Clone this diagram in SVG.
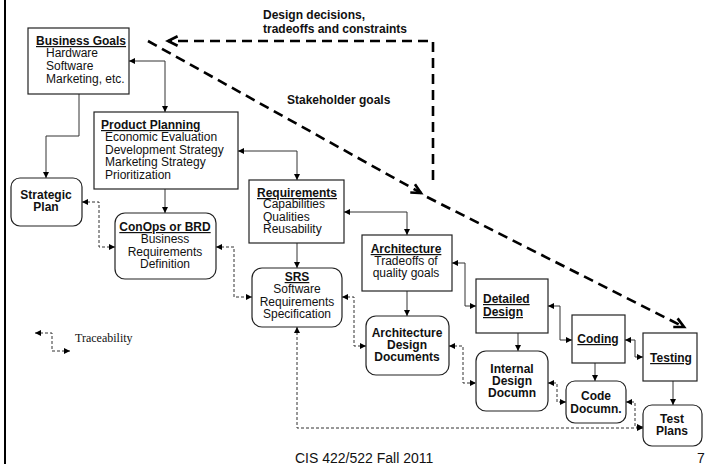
<svg xmlns="http://www.w3.org/2000/svg" width="706" height="464" viewBox="0 0 706 464">
<style>
text{font-family:"Liberation Sans",Arial,sans-serif;font-size:12px;fill:#111}
.b{font-weight:bold}
.u{text-decoration:underline}
.m{text-anchor:middle}
.box{fill:#fff;stroke:#222;stroke-width:1.2}
.con{fill:none;stroke:#333;stroke-width:1}
.tr{fill:none;stroke:#333;stroke-width:1;stroke-dasharray:3 2}
.big{fill:none;stroke:#000;stroke-width:2.6;stroke-dasharray:10 6}
</style>
<defs>
<marker id="ah" viewBox="0 0 10 10" refX="10" refY="5" markerWidth="6" markerHeight="6" markerUnits="userSpaceOnUse" orient="auto-start-reverse"><path d="M0,0 L10,5 L0,10 z" fill="#000"/></marker>
<marker id="open" viewBox="0 0 10 10" refX="9" refY="5" markerWidth="12" markerHeight="12" markerUnits="userSpaceOnUse" orient="auto" overflow="visible"><path d="M1,1 L9,5 L1,9" fill="none" stroke="#000" stroke-width="2.2"/></marker>
</defs>
<rect width="706" height="464" fill="#fff"/>
<line x1="5" y1="0" x2="5" y2="464" stroke="#000" stroke-width="2"/>

<g id="connectors">
<path class="con" d="M129,61 H165 V112" marker-start="url(#ah)" marker-end="url(#ah)"/>
<path class="con" d="M79,94 V136 H46 V178" marker-end="url(#ah)"/>
<path class="con" d="M238,151 H297 V180" marker-start="url(#ah)" marker-end="url(#ah)"/>
<path class="con" d="M165,189 V213" marker-end="url(#ah)"/>
<path class="con" d="M344,212 H407 V235" marker-start="url(#ah)" marker-end="url(#ah)"/>
<path class="con" d="M297,243 V268" marker-end="url(#ah)"/>
<path class="con" d="M452,263 H465 V306 H476" marker-start="url(#ah)" marker-end="url(#ah)"/>
<path class="con" d="M407,291 V316" marker-end="url(#ah)"/>
<path class="con" d="M548,306 H560 V340 H572" marker-start="url(#ah)" marker-end="url(#ah)"/>
<path class="con" d="M518,333 V351" marker-end="url(#ah)"/>
<path class="con" d="M625,340 H635 V357 H643" marker-start="url(#ah)" marker-end="url(#ah)"/>
<path class="con" d="M595,363 V381" marker-end="url(#ah)"/>
<path class="con" d="M673,381 V405" marker-end="url(#ah)"/>

<path class="tr" d="M82,202 H99 V247 H115" marker-start="url(#ah)" marker-end="url(#ah)"/>
<path class="tr" d="M216,247 H234 V297 H252" marker-start="url(#ah)" marker-end="url(#ah)"/>
<path class="tr" d="M342,297 H354 V346 H366" marker-start="url(#ah)" marker-end="url(#ah)"/>
<path class="tr" d="M449,346 H463 V383 H476" marker-start="url(#ah)" marker-end="url(#ah)"/>
<path class="tr" d="M548,383 H557 V402 H566" marker-start="url(#ah)" marker-end="url(#ah)"/>
<path class="tr" d="M626,402 H635 V427 H643" marker-start="url(#ah)" marker-end="url(#ah)"/>
<path class="tr" d="M297,327 V428 H643" marker-start="url(#ah)" marker-end="url(#ah)"/>
<path class="tr" d="M35,333 H52 V351 H70" marker-start="url(#ah)" marker-end="url(#ah)"/>

<path class="big" d="M148,41 L421,193" marker-end="url(#open)"/>
<path class="big" d="M427,197 L684,327" marker-end="url(#open)"/>
<path class="big" d="M433,180 V41 H168" marker-end="url(#open)"/>
</g>

<g id="business-goals">
<rect class="box" x="28" y="28" width="101" height="66"/>
<text class="b u" x="36" y="45">Business Goals</text>
<text x="46" y="57">Hardware</text>
<text x="46" y="70">Software</text>
<text x="46" y="83">Marketing, etc.</text>
</g>

<g id="product-planning">
<rect class="box" x="94" y="112" width="144" height="77"/>
<text class="b u" x="101" y="129">Product Planning</text>
<text x="105" y="141">Economic Evaluation</text>
<text x="105" y="154">Development Strategy</text>
<text x="105" y="166">Marketing Strategy</text>
<text x="105" y="179">Prioritization</text>
</g>

<g id="strategic-plan">
<rect class="box" x="11" y="178" width="71" height="48" rx="9"/>
<text class="b m" x="46" y="199">Strategic</text>
<text class="b m" x="46" y="211">Plan</text>
</g>

<g id="conops">
<rect class="box" x="115" y="213" width="101" height="66" rx="10"/>
<text class="b u m" x="165" y="231">ConOps or BRD</text>
<text class="m" x="165" y="243">Business</text>
<text class="m" x="165" y="256">Requirements</text>
<text class="m" x="165" y="268">Definition</text>
</g>

<g id="requirements">
<rect class="box" x="249" y="180" width="95" height="63"/>
<text class="b u" x="257" y="197">Requirements</text>
<text x="263" y="208">Capabilities</text>
<text x="263" y="221">Qualities</text>
<text x="263" y="233">Reusability</text>
</g>

<g id="srs">
<rect class="box" x="252" y="268" width="90" height="59" rx="10"/>
<text class="b u m" x="297" y="281">SRS</text>
<text class="m" x="297" y="293">Software</text>
<text class="m" x="297" y="306">Requirements</text>
<text class="m" x="297" y="318">Specification</text>
</g>

<g id="architecture">
<rect class="box" x="362" y="235" width="90" height="56"/>
<text class="b u m" x="406" y="253">Architecture</text>
<text class="m" x="406" y="265">Tradeoffs of</text>
<text class="m" x="406" y="277">quality goals</text>
</g>

<g id="architecture-design-documents">
<rect class="box" x="366" y="316" width="83" height="59" rx="10"/>
<text class="b m" x="407" y="337">Architecture</text>
<text class="b m" x="407" y="349">Design</text>
<text class="b m" x="407" y="361">Documents</text>
</g>

<g id="detailed-design">
<rect class="box" x="476" y="279" width="72" height="54"/>
<text class="b u" x="483" y="303">Detailed</text>
<text class="b u" x="483" y="316">Design</text>
</g>

<g id="internal-design-documn">
<rect class="box" x="476" y="351" width="72" height="60" rx="10"/>
<text class="b m" x="512" y="373">Internal</text>
<text class="b m" x="512" y="385">Design</text>
<text class="b m" x="512" y="397">Documn</text>
</g>

<g id="coding">
<rect class="box" x="572" y="315" width="53" height="48"/>
<text class="b u m" x="598" y="343">Coding</text>
</g>

<g id="code-documn">
<rect class="box" x="566" y="381" width="60" height="42" rx="9"/>
<text class="b m" x="596" y="400">Code</text>
<text class="b m" x="596" y="413">Documn.</text>
</g>

<g id="testing">
<rect class="box" x="643" y="333" width="54" height="48"/>
<text class="b u m" x="671" y="362">Testing</text>
</g>

<g id="test-plans">
<rect class="box" x="643" y="405" width="59" height="41" rx="9"/>
<text class="b m" x="672" y="423">Test</text>
<text class="b m" x="672" y="435">Plans</text>
</g>

<g id="labels">
<text class="b" x="263" y="19">Design decisions,</text>
<text class="b" x="263" y="33">tradeoffs and constraints</text>
<text class="b" x="287" y="104">Stakeholder goals</text>
<text x="75" y="342" style="font-family:'Liberation Serif','Times New Roman',serif">Traceability</text>
<text x="295" y="463" style="font-size:14px">CIS 422/522 Fall 2011</text>
<text x="697" y="463" style="font-size:14px">7</text>
</g>
</svg>
